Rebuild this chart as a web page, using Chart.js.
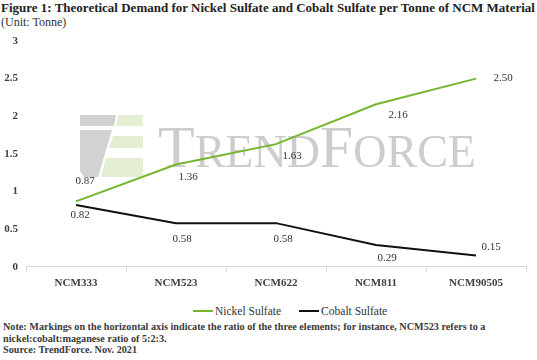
<!DOCTYPE html>
<html lang="en">
<head>
<meta charset="utf-8">
<script src="https://cdn.jsdelivr.net/npm/chart.js"></script>
<title>Nickel and Cobalt Sulfate Demand</title>
<style>
  body { margin: 0; width: 537px; height: 360px; background: #fff; overflow: hidden; position: relative; font-family: "Liberation Serif", serif; }
  #title { position: absolute; left: 1px; top: 0px; font-weight: bold; font-size: 13px; color: #222; white-space: nowrap; }
  #unit { position: absolute; left: 1px; top: 15px; font-size: 12px; color: #333; }
  #wrap { position: absolute; left: 0; top: 28px; width: 537px; height: 270px; }
  #legend { position: absolute; left: 193px; top: 302px; height: 14px; font-family: "Liberation Serif", serif; font-size: 11.5px; color: #333; white-space: nowrap; }
  #legend .item { display: inline-flex; align-items: center; margin-right: 18px; }
  #legend .swatch { display: inline-block; width: 20px; height: 2px; margin-right: 2px; }
  #note { position: absolute; left: 3px; top: 321px; font-size: 10.2px; font-weight: bold; color: #3a3a3a; line-height: 11.5px; white-space: nowrap; }
</style>
</head>
<body>
<div id="title">Figure 1: Theoretical Demand for Nickel Sulfate and Cobalt Sulfate per Tonne of NCM Material</div>
<div id="unit">(Unit: Tonne)</div>
<div id="wrap"><canvas id="myChart"></canvas></div>
<div id="legend"></div>
<div id="note">Note: Markings on the horizontal axis indicate the ratio of the three elements; for instance, NCM523 refers to a<br>nickel:cobalt:maganese ratio of 5:2:3.<br>Source: TrendForce. Nov. 2021</div>

<script>
  const labels = ['NCM333', 'NCM523', 'NCM622', 'NCM811', 'NCM90505'];
  const nickel = [0.87, 1.36, 1.63, 2.16, 2.50];
  const cobalt = [0.82, 0.58, 0.58, 0.29, 0.15];

  // where each value label sits relative to its point (dx, dy)
  const nickelLabelOffset = [[9, -20], [12, 13], [16, 12], [22, 11], [27, -1]];
  const cobaltLabelOffset = [[4, 10], [6, 16], [7, 16], [11, 13], [15, -8]];

  const serif = '"Liberation Serif", serif';

  const valueLabels = {
    id: 'valueLabels',
    afterDatasetsDraw(chart) {
      const ctx = chart.ctx;
      ctx.save();
      ctx.font = '11px ' + serif;
      ctx.fillStyle = '#333';
      ctx.textAlign = 'center';
      ctx.textBaseline = 'middle';
      chart.data.datasets.forEach((ds, i) => {
        const meta = chart.getDatasetMeta(i);
        meta.data.forEach((pt, j) => {
          const off = ds.labelOffset[j];
          ctx.fillText(ds.data[j].toFixed(2), pt.x + off[0], pt.y + off[1]);
        });
      });
      ctx.restore();
    }
  };

  // faint TrendForce watermark behind the lines
  const watermark = {
    id: 'watermark',
    beforeDatasetsDraw(chart) {
      const ctx = chart.ctx;
      const a = chart.chartArea;
      const x0 = a.left + 54, y0 = a.top + 74;
      ctx.save();
      ctx.fillStyle = '#d2d2d2';
      ctx.beginPath();
      ctx.moveTo(x0, y0); ctx.lineTo(x0 + 36, y0); ctx.lineTo(x0 + 34, y0 + 11);
      ctx.lineTo(x0, y0 + 11); ctx.closePath(); ctx.fill();
      ctx.beginPath();
      ctx.moveTo(x0, y0 + 15); ctx.lineTo(x0 + 32, y0 + 15); ctx.lineTo(x0 + 18, y0 + 62);
      ctx.lineTo(x0 + 4, y0 + 62); ctx.lineTo(x0, y0 + 56); ctx.closePath(); ctx.fill();
      ctx.fillStyle = '#e4eed2';
      ctx.beginPath();
      ctx.moveTo(x0 + 38, y0); ctx.lineTo(x0 + 63, y0); ctx.lineTo(x0 + 63, y0 + 11);
      ctx.lineTo(x0 + 36, y0 + 11); ctx.closePath(); ctx.fill();
      ctx.beginPath();
      ctx.moveTo(x0 + 33, y0 + 21); ctx.lineTo(x0 + 63, y0 + 21); ctx.lineTo(x0 + 63, y0 + 33);
      ctx.lineTo(x0 + 29, y0 + 33); ctx.closePath(); ctx.fill();
      ctx.beginPath();
      ctx.moveTo(x0 + 26, y0 + 43); ctx.lineTo(x0 + 63, y0 + 43); ctx.lineTo(x0 + 63, y0 + 62);
      ctx.lineTo(x0 + 21, y0 + 62); ctx.closePath(); ctx.fill();

      ctx.fillStyle = '#cdcdcd';
      ctx.textBaseline = 'alphabetic';
      const base = y0 + 52;
      let x = x0 + 78;
      const parts = [['T', 60], ['REND', 46], ['F', 60], ['ORCE', 46]];
      parts.forEach(p => {
        ctx.font = p[1] + 'px ' + serif;
        ctx.fillText(p[0], x, base);
        x += ctx.measureText(p[0]).width;
      });
      ctx.restore();
    }
  };

  const myChart = new Chart(document.getElementById('myChart'), {
    type: 'line',
    data: {
      labels: labels,
      datasets: [
        {
          label: 'Nickel Sulfate',
          data: nickel,
          labelOffset: nickelLabelOffset,
          borderColor: '#74b62c',
          backgroundColor: '#74b62c',
          borderWidth: 2,
          pointRadius: 0,
          tension: 0
        },
        {
          label: 'Cobalt Sulfate',
          data: cobalt,
          labelOffset: cobaltLabelOffset,
          borderColor: '#111111',
          backgroundColor: '#111111',
          borderWidth: 2,
          pointRadius: 0,
          tension: 0
        }
      ]
    },
    options: {
      responsive: true,
      maintainAspectRatio: false,
      animation: false,
      layout: { padding: { top: 13, right: 11, left: 0, bottom: 3 } },
      plugins: {
        legend: { display: false },
        tooltip: { enabled: false }
      },
      scales: {
        x: {
          offset: true,
          grid: { offset: true, drawOnChartArea: false, drawTicks: true, tickLength: 5, color: '#d9d9d9' },
          border: { display: true, color: '#d9d9d9' },
          ticks: { color: '#404040', padding: 5, font: { family: serif, size: 11, weight: 'bold' } }
        },
        y: {
          min: 0,
          max: 3,
          afterFit(scale) { scale.width = 26; },
          grid: { display: false },
          border: { display: false },
          ticks: {
            stepSize: 0.5,
            color: '#404040',
            padding: 0,
            font: { family: serif, size: 11, weight: 'bold' },
            callback: v => String(v)
          }
        }
      }
    },
    plugins: [watermark, valueLabels]
  });

  // legend built from the chart's own datasets
  const legend = document.getElementById('legend');
  myChart.data.datasets.forEach(ds => {
    const item = document.createElement('span');
    item.className = 'item';
    const sw = document.createElement('span');
    sw.className = 'swatch';
    sw.style.background = ds.borderColor;
    item.appendChild(sw);
    item.appendChild(document.createTextNode(ds.label));
    legend.appendChild(item);
  });
</script>
</body>
</html>
